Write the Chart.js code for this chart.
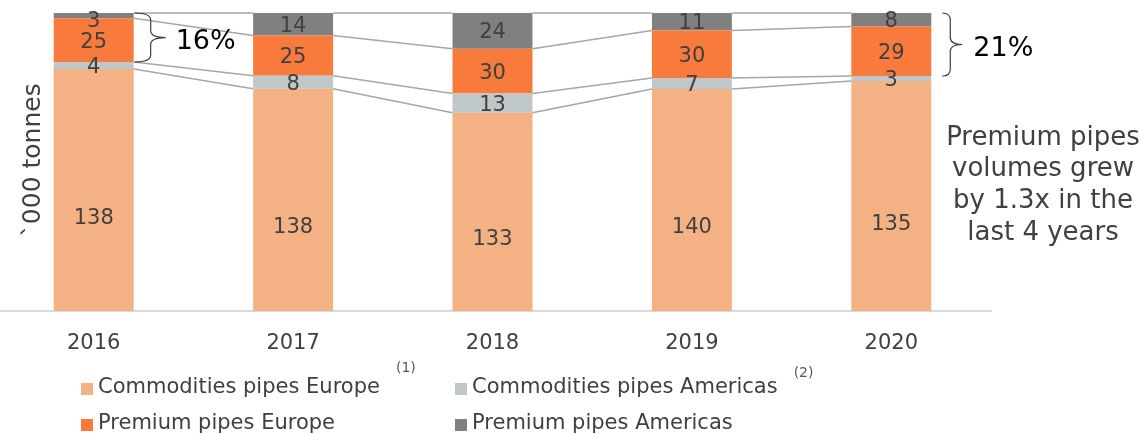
<!DOCTYPE html>
<html>
<head>
<meta charset="utf-8">
<script src="https://cdn.jsdelivr.net/npm/chart.js@4"></script>
<style>
  html, body { margin: 0; padding: 0; background: #fff; overflow: hidden; }
  #wrap { position: relative; width: 1147px; height: 434px; overflow: hidden; }
  #box { position: absolute; left: -7px; top: 0; width: 1154px; height: 434px; }
</style>
</head>
<body>
<div id="wrap"><div id="box"><canvas id="myChart"></canvas></div></div>
<script>
const years = ['2016', '2017', '2018', '2019', '2020'];
const commEurope = [138, 138, 133, 140, 135];
const commAmericas = [4, 8, 13, 7, 3];
const premEurope = [25, 25, 30, 30, 29];
const premAmericas = [3, 14, 24, 11, 8];
const seriesNames = ['Commodities pipes Europe', 'Commodities pipes Americas', 'Premium pipes Europe', 'Premium pipes Americas'];
const premiumShare = ['16%', '21%']; // brace labels, 2016 and 2020
const noteLines = ['Premium pipes', 'volumes grew', 'by 1.3x in the', 'last 4 years'];

const colors = ['#F4B183', '#BFC7C9', '#F97A3D', '#808080'];
const FONT = '"DejaVu Sans", Verdana, sans-serif';
const SHIFT = 7; // canvas sits 7px left of the page
const labelDrop = [28, 2, 2, 2]; // the big bottom labels sit low in the original

const raw = [commEurope, commAmericas, premEurope, premAmericas];
const totals = years.map((y, i) => raw.reduce((s, arr) => s + arr[i], 0));
// 100% stacked, so each value is plotted as a share of its year
const share = arr => arr.map((v, i) => v / totals[i] * 100);

const ctx = document.getElementById('myChart').getContext('2d');

// grey lines joining the segment tops of neighbouring bars
const seriesLines = {
  id: 'seriesLines',
  afterDatasetsDraw(chart) {
    const c = chart.ctx;
    c.save();
    c.strokeStyle = '#A6A6A6';
    c.lineWidth = 1.5;
    chart.data.datasets.forEach((ds, d) => {
      const bars = chart.getDatasetMeta(d).data;
      for (let i = 0; i < bars.length - 1; i++) {
        const a = bars[i], b = bars[i + 1];
        c.beginPath();
        c.moveTo(a.x + a.width / 2, a.y);
        c.lineTo(b.x - b.width / 2, b.y);
        c.stroke();
      }
    });
    c.restore();
  }
};

const valueLabels = {
  id: 'valueLabels',
  afterDatasetsDraw(chart) {
    const c = chart.ctx;
    const top = chart.chartArea.top;
    c.save();
    c.font = '21px ' + FONT;
    c.fillStyle = '#404040';
    c.textAlign = 'center';
    c.textBaseline = 'middle';
    chart.data.datasets.forEach((ds, d) => {
      chart.getDatasetMeta(d).data.forEach((el, i) => {
        let y = (el.y + el.base) / 2 + labelDrop[d];
        if (y < top + 9) y = top + 9;
        c.fillText(String(raw[d][i]), el.x, y);
      });
    });
    c.restore();
  }
};

function brace(c, x, yTop, yBot, arm, tip) {
  const mid = (yTop + yBot) / 2;
  const r = 7;
  c.beginPath();
  c.moveTo(x, yTop);
  c.quadraticCurveTo(x + arm, yTop, x + arm, yTop + r);
  c.lineTo(x + arm, mid - r);
  c.quadraticCurveTo(x + arm, mid, x + tip, mid);
  c.quadraticCurveTo(x + arm, mid, x + arm, mid + r);
  c.lineTo(x + arm, yBot - r);
  c.quadraticCurveTo(x + arm, yBot, x, yBot);
  c.stroke();
  return mid;
}

const annotations = {
  id: 'annotations',
  afterDraw(chart) {
    const c = chart.ctx;
    c.save();

    // braces over the premium segments
    const pe = chart.getDatasetMeta(2).data;
    const pa = chart.getDatasetMeta(3).data;
    const spec = [{ i: 0, gap: 1, arm: 16, tip: 31 }, { i: 4, gap: 11, arm: 8, tip: 20 }];
    spec.forEach((s, k) => {
      const right = pa[s.i].x + pa[s.i].width / 2;
      c.strokeStyle = '#404040';
      c.lineWidth = 1.2;
      const mid = brace(c, right + s.gap, pa[s.i].y, pe[s.i].base, s.arm, s.tip);
      c.font = '27px ' + FONT;
      c.fillStyle = '#000';
      c.textAlign = 'center';
      c.textBaseline = 'middle';
      c.fillText(premiumShare[k], right + 72, mid + 4);
    });

    // side note
    c.font = '26px ' + FONT;
    c.fillStyle = '#404040';
    c.textAlign = 'center';
    c.textBaseline = 'middle';
    noteLines.forEach((t, k) => c.fillText(t, 1043 + SHIFT, 138 + k * 31.7));

    // axis title
    c.save();
    c.translate(33 + SHIFT, 160);
    c.rotate(-Math.PI / 2);
    c.font = '25px ' + FONT;
    c.fillText('`000 tonnes', 0, 0);
    c.restore();

    // legend, two rows of two
    const cols = [81, 455];
    const rows = [388, 424];
    const notes = ['(1)', '(2)'];
    const noteY = [368, 373];
    seriesNames.forEach((name, k) => {
      const x = cols[k % 2] + SHIFT;
      const y = rows[Math.floor(k / 2)];
      c.fillStyle = colors[k];
      c.fillRect(x, y - 5, 12, 12);
      c.font = '21px ' + FONT;
      c.fillStyle = '#404040';
      c.textAlign = 'left';
      c.textBaseline = 'middle';
      c.fillText(name, x + 17, y);
      if (k < 2) {
        const w = c.measureText(name).width;
        c.font = '14px ' + FONT;
        c.fillStyle = '#595959';
        c.fillText(notes[k], x + 17 + w + 16, noteY[k]);
      }
    });
    c.restore();
  }
};

const myChart = new Chart(ctx, {
  type: 'bar',
  data: {
    labels: years,
    datasets: raw.map((arr, d) => ({
      label: seriesNames[d],
      data: share(arr),
      backgroundColor: colors[d],
      borderWidth: 0,
      categoryPercentage: 1,
      barPercentage: 0.401
    }))
  },
  options: {
    responsive: true,
    maintainAspectRatio: false,
    animation: false,
    layout: { padding: { top: 13, left: 1, right: 156, bottom: 0 } },
    plugins: { legend: { display: false }, tooltip: { enabled: false } },
    scales: {
      x: {
        stacked: true,
        grid: { drawOnChartArea: false, drawTicks: false, color: 'transparent' },
        border: { display: true, color: '#D9D9D9', width: 2 },
        ticks: { color: '#404040', font: { family: FONT, size: 21 }, padding: 20 },
        afterFit: scale => { scale.height = 123; }
      },
      y: { stacked: true, display: false, min: 0, max: 100 }
    }
  },
  plugins: [seriesLines, valueLabels, annotations]
});
</script>
</body>
</html>
